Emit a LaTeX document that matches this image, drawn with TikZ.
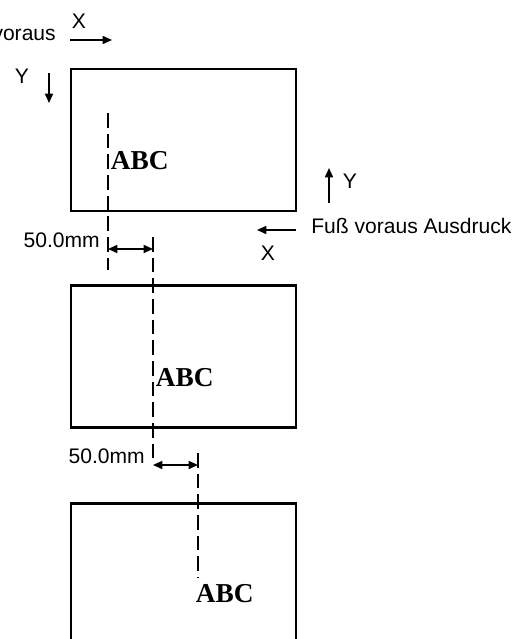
\documentclass[tikz,border=0pt]{standalone}
\usepackage{fontspec}
\setmainfont{Liberation Sans}
\newfontfamily\abcfont{Liberation Serif}
\usepackage{tikz}
\usetikzlibrary{arrows.meta,positioning,calc}
\tikzset{
  >={Triangle[length=7pt,width=6pt]},
  page/.style={rectangle,draw,line width=1.6pt,minimum width=168.75pt,minimum height=106.5pt,inner sep=0pt,outer sep=0pt},
  print/.style={font=\abcfont\bfseries\fontsize{20.5}{22}\selectfont,inner sep=0.5pt,anchor=west},
  label/.style={font=\fontsize{15.8}{18}\selectfont,inner sep=0pt},
  axis/.style={->,line width=1.2pt},
  guide/.style={line width=1pt,dash pattern=on 11pt off 4.5pt},
  dim/.style={<->,line width=1.2pt}
}

\begin{document}
\begin{tikzpicture}[x=0.75pt,y=-0.75pt]
  \useasboundingbox (0,0) rectangle (531,639);
  \clip (0,0) rectangle (531,639);

  % Pages
  \node[page] (p1) at (183.5,140) {};
  \node[page] (p2) at (183.5,356.5) {};
  \node[page] (p3) at (183.5,574.5) {};

  % Head first direction (top left)
  \node[label,anchor=east] (head) at (56,35) {voraus};
  \coordinate (hx1) at (70,40);
  \coordinate (hx2) at (112,40);
  \draw[axis] (hx1) -- (hx2);
  \node[label] (hx) at (79,21) {X};
  \coordinate (hy1) at (49,73);
  \coordinate (hy2) at (49,103);
  \draw[axis] (hy1) -- (hy2);
  \node[label] (hy) at (22,76) {Y};

  % Foot first direction (right)
  \coordinate (fy1) at (329,203);
  \coordinate (fy2) at (329,168);
  \draw[axis] (fy1) -- (fy2);
  \node[label] (fy) at (350,181) {Y};
  \node[label,anchor=west] (foot) at (311,226) {Fuß voraus Ausdruck};
  \coordinate (fx1) at (296,230);
  \coordinate (fx2) at (257,230);
  \draw[axis] (fx1) -- (fx2);
  \node[label] (fx) at (268,253) {X};

  % Guide lines
  \coordinate (g1a) at (108,113);
  \coordinate (g1b) at (108,270);
  \coordinate (g2a) at (153,237);
  \coordinate (g2b) at (153,462);
  \coordinate (g3a) at (198,453);
  \coordinate (g3b) at (198,578);
  \draw[guide] (g1a) -- (g1b);
  \draw[guide] (g2a) -- (g2b);
  \draw[guide] (g3a) -- (g3b);

  % Printed text
  \node[print] (abc1) at (110,161) {ABC};
  \node[print] (abc2) at (155,378) {ABC};
  \node[print] (abc3) at (195,594) {ABC};

  % Offsets
  \coordinate (o1a) at (108,249);
  \coordinate (o1b) at (153,249);
  \draw[dim] (o1a) -- (o1b);
  \node[label,anchor=east] (off1) at (100,240) {50.0mm};
  \coordinate (o2a) at (153,465);
  \coordinate (o2b) at (198,465);
  \draw[dim] (o2a) -- (o2b);
  \node[label,anchor=east] (off2) at (145,456) {50.0mm};
\end{tikzpicture}
\end{document}
